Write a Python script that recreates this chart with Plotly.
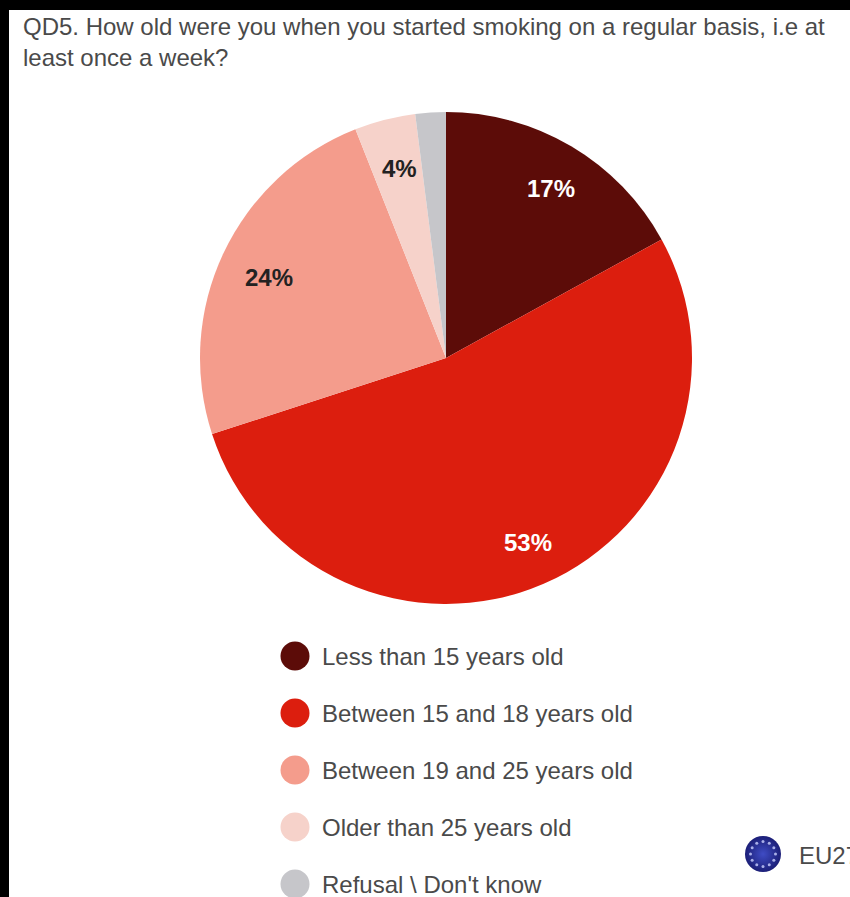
import math
import plotly.graph_objects as go

W, H = 850, 897
categories = ["Less than 15 years old", "Between 15 and 18 years old",
              "Between 19 and 25 years old", "Older than 25 years old",
              "Refusal \\ Don't know"]
shares = [17, 53, 24, 4, 2]
colors = ["#5c0c08", "#dc1e0e", "#f49c8c", "#f6d2ca", "#c6c6ca"]
label_colors = ["#ffffff", "#ffffff", "#222222", "#222222", None]
label_xy = [(551, 188), (528, 542), (269, 277), (399, 168), None]
legend_y = [656, 713, 770, 827, 884]

TEXT = "#4a4a4a"
FONT = "Liberation Sans"
cx, cy, r = 446, 358, 246

fig = go.Figure()

# The pie, placed by pixel-sized domain on a full-bleed page
fig.add_trace(go.Pie(
    labels=categories, values=shares, sort=False, direction="clockwise", rotation=0,
    marker=dict(colors=colors, line=dict(width=0)),
    textinfo="none", hoverinfo="label+percent", showlegend=False,
    domain=dict(x=[(cx - r) / W, (cx + r) / W], y=[1 - (cy + r) / H, 1 - (cy - r) / H]),
))

# Legend dots on a hidden pixel-scaled axis pair
fig.add_trace(go.Scatter(
    x=[295] * len(categories), y=legend_y, mode="markers",
    marker=dict(size=29, color=colors, line=dict(width=0)),
    hoverinfo="skip", showlegend=False,
))

# EU emblem: shaded disc with a ring of small stars
fig.add_trace(go.Scatter(
    x=[763], y=[854], mode="markers",
    marker=dict(size=36, color="#1c1f78", line=dict(width=0),
                gradient=dict(type="radial", color="#3f4cc4")),
    hoverinfo="skip", showlegend=False,
))
fig.add_trace(go.Scatter(
    x=[763 + 12.5 * math.cos(math.radians(a)) for a in range(0, 360, 30)],
    y=[854 + 12.5 * math.sin(math.radians(a)) for a in range(0, 360, 30)],
    mode="markers", marker=dict(size=3, color="#aab0e8", line=dict(width=0)),
    hoverinfo="skip", showlegend=False,
))

ann = []
for v, c, xy in zip(shares, label_colors, label_xy):
    if xy:
        ann.append(dict(x=xy[0], y=xy[1], text=f"<b>{v}%</b>", showarrow=False,
                        xref="x", yref="y", font=dict(family=FONT, size=24, color=c)))
for name, y in zip(categories, legend_y):
    ann.append(dict(x=320, y=y, text=name, showarrow=False, xref="x", yref="y",
                    xanchor="left", font=dict(family=FONT, size=24, color=TEXT)))
ann.append(dict(x=797, y=855, text="EU27", showarrow=False, xref="x", yref="y",
                xanchor="left", font=dict(family=FONT, size=24, color=TEXT)))
ann.append(dict(x=21, y=11, yanchor="top", xanchor="left", align="left", showarrow=False,
                xref="x", yref="y",
                text="QD5. How old were you when you started smoking on a regular basis, i.e at<br>"
                     "least once a week?",
                font=dict(family=FONT, size=24, color=TEXT)))

fig.update_layout(
    width=W, height=H, margin=dict(l=0, r=0, t=0, b=0),
    paper_bgcolor="#ffffff", plot_bgcolor="rgba(0,0,0,0)",
    xaxis=dict(range=[0, W], visible=False, fixedrange=True),
    yaxis=dict(range=[H, 0], visible=False, fixedrange=True),
    annotations=ann,
    # Black frame along the top and left edges
    shapes=[
        dict(type="rect", xref="x", yref="y", x0=0, x1=W, y0=0, y1=10,
             fillcolor="#000000", line=dict(width=0)),
        dict(type="rect", xref="x", yref="y", x0=0, x1=9, y0=0, y1=H,
             fillcolor="#000000", line=dict(width=0)),
    ],
)
fig.write_html("out.html", config=dict(displayModeBar=False))
